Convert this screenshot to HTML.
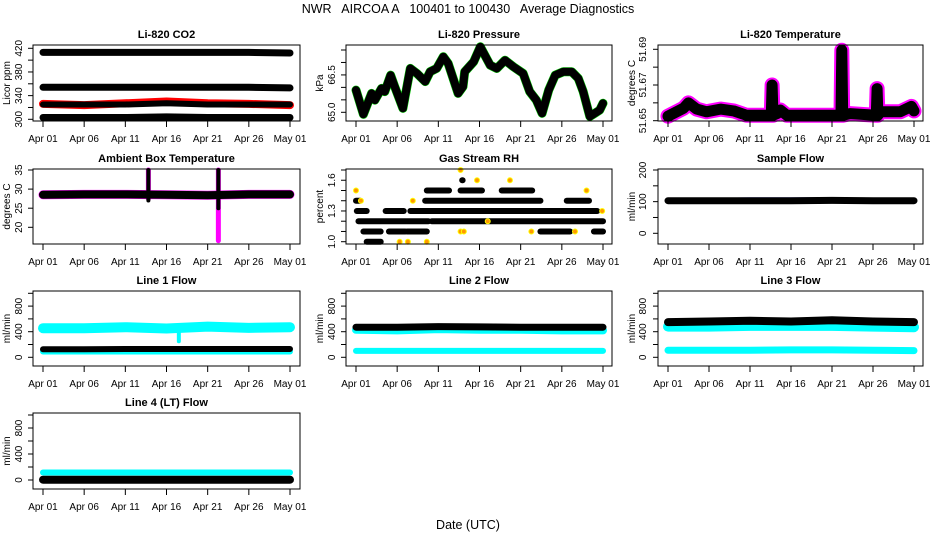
<!DOCTYPE html>
<html><head><meta charset="utf-8">
<style>
html,body{margin:0;padding:0;background:#fff;}
svg{display:block;font-family:"Liberation Sans",Arial,sans-serif;}
</style></head>
<body>
<svg id="chart" width="936" height="540" viewBox="0 0 936 540" xmlns="http://www.w3.org/2000/svg">
<rect x="0" y="0" width="936" height="540" fill="#fff"/>
<text x="468" y="13" font-size="12.5" text-anchor="middle" xml:space="preserve">NWR   AIRCOA A   100401 to 100430   Average Diagnostics</text>
<text x="468" y="529" font-size="12.5" text-anchor="middle">Date (UTC)</text>
</svg>
<script>
// ---- data ----
const tickDays = [0,5,10,15,20,25,30];
const tickLabels = ["Apr 01","Apr 06","Apr 11","Apr 16","Apr 21","Apr 26","May 01"];

const co2Days = [0,5,10,15,20,25,30];
const co2Band1 = [413,413,413,413,413,413,412];
const co2Band2 = [354,354,354,354,354,354,353];
const co2Band3 = [325,325,325,327,325,325,325];
const co2Red = [326,324,327,330,327,326,324];
const co2Band4 = [303,303,303,304,303,303,303];

const presDays = [0,0.9,1.9,2.3,3.1,3.5,4.2,4.7,5.7,6.6,7.4,8.4,9.0,9.8,10.6,11.2,12.4,13.0,13.2,14.3,15.1,16.3,17.1,18.1,19.1,20.3,21.1,21.9,22.6,23.4,24.2,25.2,26.2,27.0,27.6,28.4,29.0,29.6,30.0];
const presVals = [65.89,64.92,65.76,65.49,65.96,65.83,66.49,66.03,65.16,66.76,66.56,66.23,66.63,66.76,67.23,66.96,65.76,66.03,66.63,67.03,67.63,66.89,66.76,67.09,66.83,66.56,65.83,65.49,64.96,65.89,66.49,66.63,66.63,66.36,65.83,64.83,64.96,65.09,65.36];

const tempDays = [0,1.9,2.5,3.5,4.7,6.4,8.0,9.6,11.2,12.6,12.7,12.8,13.3,13.7,14.5,18.6,21.1,21.2,21.3,22.2,25.4,25.5,25.6,25.9,28.3,29.7,30];
const tempVals = [51.6525,51.657,51.660,51.6565,51.655,51.6565,51.6555,51.653,51.653,51.653,51.670,51.653,51.654,51.656,51.653,51.653,51.653,51.6895,51.653,51.654,51.653,51.668,51.653,51.655,51.655,51.658,51.6555];

const ambDays = [0,5,10,15,20,25,30];
const ambVals = [28.5,28.6,28.6,28.5,28.4,28.6,28.6];
const ambSpikeDays = [12.8,21.3];
const ambMagentaLow = [27.5,16.5];
const ambBlackLow = [27,25];
const ambSpikeHigh = [35,35];

const rhLevel = [1.4,1.4,1.4,1.3,1.3,1.3,1.2,1.2,1.1,1.1,1.1,1.1,1.1,1.0,1.5,1.5,1.5,1.6];
const rhStart = [0,8.4,25.6,0.1,3.6,6.6,0.3,9.2,0.9,4.0,6.2,22.4,28.9,1.3,8.6,12.7,17.7,12.9];
const rhEnd = [0.5,22.4,28.3,1.3,5.8,29.3,8.8,30,3.0,6.0,8.6,26.0,30,3.0,11.3,15.3,21.4,12.95];
const rhDotDays = [0,0.6,5.3,6.9,6.3,12.7,12.7,13.1,14.7,18.7,28.0,29.9,16.0,21.3,26.6,8.6];
const rhDotVals = [1.5,1.4,1.0,1.4,1.0,1.7,1.1,1.1,1.6,1.6,1.5,1.3,1.2,1.1,1.1,1.0];

const flowDays = [0,5,10,15,20,25,30];
const sampleBlack = [103,103,103,103,104,103,103];
const sampleBlue = [104,106,107,107,107,106,103];

const l1CyanHigh = [455,455,470,450,480,460,470];
const l1CyanLow = [90,90,90,90,90,90,90];
const l1Black = [125,125,130,130,130,130,130];
const l1DipDay = 16.5, l1DipVal = 250;

const l2Black = [470,470,480,475,470,470,470];
const l2CyanHigh = [430,420,440,430,430,420,420];
const l2CyanLow = [100,100,100,100,100,100,100];

const l3Black = [550,560,570,560,580,560,550];
const l3CyanHigh = [480,480,490,490,490,480,470];
const l3CyanLow = [110,110,110,115,115,110,105];

const l4Cyan = [115,115,115,115,115,115,115];
const l4Black = [5,5,5,5,5,5,5];

// ---- drawing ----
const NS = "http://www.w3.org/2000/svg";
const svg = document.getElementById('chart');
const cols = [{x0:33,x1:300,d0:43,d30:290,lab:18,tit:7},{x0:346,x1:612,d0:356,d30:603,lab:331,tit:320},{x0:658,x1:923,d0:668,d30:914,lab:642,tit:632}];
const rows = [{y0:45,y1:121},{y0:169,y1:244},{y0:291,y1:366},{y0:413,y1:489}];

function mk(tag, name, attrs, parent){
  const el = document.createElementNS(NS, tag);
  
  
  for (const k in attrs) el.setAttribute(k, attrs[k]);
  (parent||svg).appendChild(el);
  return el;
}

function panel(c, r, title, ytitle, vA, pA, vB, pB, ticks, labels){
  const C = cols[c], R = rows[r];
  const g = mk('g', title.toLowerCase().replace(/[^a-z0-9]+/g,'-')+'-panel', {});
  const xs = d => C.d0 + (C.d30 - C.d0) * d / 30;
  const ys = v => pA + (pB - pA) * (v - vA) / (vB - vA);
  const plot = mk('g', 'plot-area', {}, g);
  mk('rect', 'plot-box', {x:C.x0, y:R.y0, width:C.x1-C.x0, height:R.y1-R.y0, fill:'none', stroke:'#000', 'stroke-width':1}, g);
  mk('text', 'panel-title', {x:(C.x0+C.x1)/2, y:R.y0-7, 'font-size':11, 'font-weight':'bold', 'text-anchor':'middle'}, g).textContent = title;
  const t = mk('text', 'y-axis-title', {x:C.tit+3, y:(R.y0+R.y1)/2, 'font-size':10, 'text-anchor':'middle', transform:`rotate(-90 ${C.tit+3} ${(R.y0+R.y1)/2})`}, g);
  t.textContent = ytitle;
  tickDays.forEach((d,i)=>{
    const x = xs(d);
    mk('line','x-tick',{x1:x,x2:x,y1:R.y1,y2:R.y1+6,stroke:'#000'},g);
    mk('text','x-tick-label',{x:x,y:R.y1+21,'font-size':10,'text-anchor':'middle'},g).textContent = tickLabels[i];
  });
  ticks.forEach(v=>{
    const y = ys(v);
    mk('line','y-tick',{x1:C.x0-5,x2:C.x0,y1:y,y2:y,stroke:'#000'},g);
  });
  labels.forEach(l=>{
    const y = ys(parseFloat(l));
    const tx = mk('text','y-tick-label',{x:C.lab+4,y:y,'font-size':10,'text-anchor':'middle',transform:`rotate(-90 ${C.lab+4} ${y})`},g);
    tx.textContent = l;
  });
  return {plot, xs, ys};
}

function line(p, days, vals, color, w, name){
  const pts = days.map((d,i)=>p.xs(d).toFixed(1)+','+p.ys(vals[i]).toFixed(1)).join(' ');
  mk('polyline', name, {points:pts, fill:'none', stroke:color, 'stroke-width':w, 'stroke-linecap':'round', 'stroke-linejoin':'round'}, p.plot);
}
function seg(p, d1, d2, v1, v2, color, w, name){
  mk('line', name, {x1:p.xs(d1), x2:p.xs(d2), y1:p.ys(v1), y2:p.ys(v2), stroke:color, 'stroke-width':w, 'stroke-linecap':'round'}, p.plot);
}

// CO2
let p = panel(0,0,'Li-820 CO2','Licor ppm',300,119.3,420,48.3,[300,320,340,360,380,400,420],['300','340','380','420']);
line(p, co2Days, co2Band1, '#000', 7, 'co2-band-415');
line(p, co2Days, co2Band2, '#000', 7, 'co2-band-354');
line(p, co2Days, co2Red, '#f00', 8, 'co2-red-series');
line(p, co2Days, co2Band3, '#000', 6, 'co2-band-325');
line(p, co2Days, co2Band4, '#000', 7, 'co2-band-303');

// Pressure
p = panel(1,0,'Li-820 Pressure','kPa',65,112.3,67.5,50,[65,65.5,66,66.5,67,67.5],['65.0','66.5']);
line(p, presDays, presVals, '#0c0', 9, 'pressure-green');
line(p, presDays, presVals, '#000', 8, 'pressure-series');

// Temperature
p = panel(2,0,'Li-820 Temperature','degrees C',51.65,120.7,51.69,49.3,[51.65,51.66,51.67,51.68,51.69],['51.65','51.67','51.69']);
line(p, tempDays, tempVals, '#f0f', 15, 'temperature-magenta');
line(p, tempDays, tempVals, '#000', 11, 'temperature-series');

// Ambient
p = panel(0,1,'Ambient Box Temperature','degrees C',20,227.3,35,170,[20,25,30,35],['20','25','30','35']);
line(p, ambDays, ambVals, '#f0f', 9, 'ambient-magenta');
ambSpikeDays.forEach((d,i)=>seg(p,d,d,ambMagentaLow[i],ambSpikeHigh[i],'#f0f',5,'ambient-spike-magenta'));
line(p, ambDays, ambVals, '#000', 8, 'ambient-series');
ambSpikeDays.forEach((d,i)=>seg(p,d,d,ambBlackLow[i],ambSpikeHigh[i],'#000',4,'ambient-spike'));

// RH
p = panel(1,1,'Gas Stream RH','percent',1.0,241.7,1.7,170,[1.0,1.1,1.2,1.3,1.4,1.5,1.6,1.7],['1.0','1.3','1.6']);
rhLevel.forEach((v,i)=>seg(p,rhStart[i],rhEnd[i],v,v,'#000',6,'rh-segment'));
rhDotDays.forEach((d,i)=>{
  mk('circle','rh-outlier',{cx:p.xs(d),cy:p.ys(rhDotVals[i]),r:2.5,fill:'#f90',stroke:'#ff0','stroke-width':1},p.plot);
});

// Sample flow
p = panel(2,1,'Sample Flow','ml/min',0,233.3,200,170,[0,50,100,150,200],['0','100','200']);
line(p, flowDays, sampleBlue, '#00f', 4, 'sample-flow-blue');
line(p, flowDays, sampleBlack, '#000', 7, 'sample-flow-series');

// Line 1
p = panel(0,2,'Line 1 Flow','ml/min',0,357.3,1000,293.3,[0,200,400,600,800,1000],['0','400','800']);
line(p, flowDays, l1CyanHigh, '#0ff', 10, 'line1-cyan-high');
seg(p, l1DipDay, l1DipDay, l1CyanHigh[3], l1DipVal, '#0ff', 4, 'line1-dip');
line(p, flowDays, l1CyanLow, '#0ff', 6, 'line1-cyan-low');
line(p, flowDays, l1Black, '#000', 6, 'line1-black');

// Line 2
p = panel(1,2,'Line 2 Flow','ml/min',0,357.3,1000,293.3,[0,200,400,600,800,1000],['0','400','800']);
line(p, flowDays, l2CyanHigh, '#0ff', 8, 'line2-cyan-high');
line(p, flowDays, l2Black, '#000', 7, 'line2-black');
line(p, flowDays, l2CyanLow, '#0ff', 6, 'line2-cyan-low');

// Line 3
p = panel(2,2,'Line 3 Flow','ml/min',0,357.3,1000,293.3,[0,200,400,600,800,1000],['0','400','800']);
line(p, flowDays, l3CyanHigh, '#0ff', 10, 'line3-cyan-high');
line(p, flowDays, l3Black, '#000', 8, 'line3-black');
line(p, flowDays, l3CyanLow, '#0ff', 7, 'line3-cyan-low');

// Line 4
p = panel(0,3,'Line 4 (LT) Flow','ml/min',0,480,1000,415,[0,200,400,600,800,1000],['0','400','800']);
line(p, flowDays, l4Cyan, '#0ff', 6, 'line4-cyan');
line(p, flowDays, l4Black, '#000', 8, 'line4-black');
</script>
</body></html>
